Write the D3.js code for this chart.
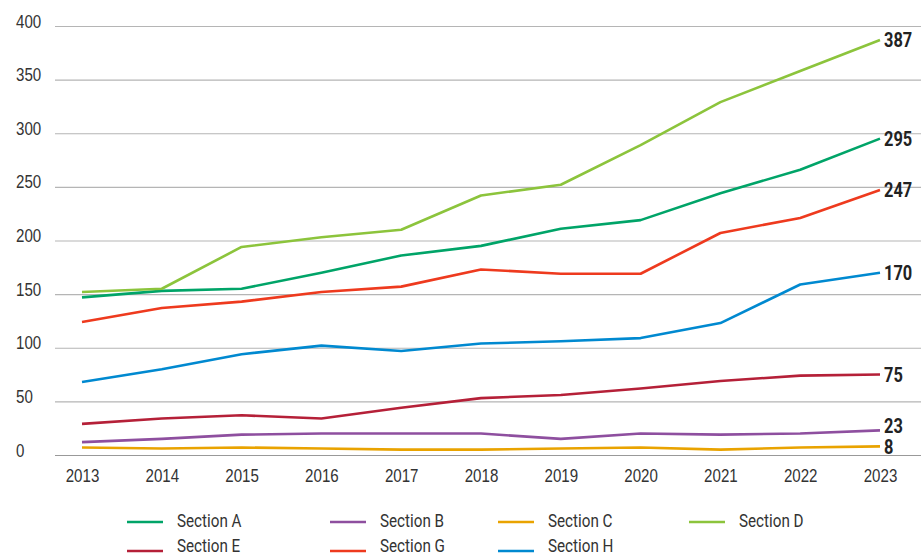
<!DOCTYPE html>
<html>
<head>
<meta charset="utf-8">
<script src="https://cdn.jsdelivr.net/npm/d3@7"></script>
<style>
  body { margin: 0; background: #fff; }
  svg { display: block; font-family: Roboto, "Noto Sans", sans-serif; }
</style>
</head>
<body>
<div id="chart"></div>
<script>
// years along the x axis
const years = [2013, 2014, 2015, 2016, 2017, 2018, 2019, 2020, 2021, 2022, 2023];
const yTicks = [0, 50, 100, 150, 200, 250, 300, 350, 400];

// values per section
const sectionA = [147, 153, 155, 170, 186, 195, 211, 219, 244, 266, 295];
const sectionB = [12, 15, 19, 20, 20, 20, 15, 20, 19, 20, 23];
const sectionC = [7, 6, 7, 6, 5, 5, 6, 7, 5, 7, 8];
const sectionD = [152, 155, 194, 203, 210, 242, 252, 289, 329, 358, 387];
const sectionE = [29, 34, 37, 34, 44, 53, 56, 62, 69, 74, 75];
const sectionG = [124, 137, 143, 152, 157, 173, 169, 169, 207, 221, 247];
const sectionH = [68, 80, 94, 102, 97, 104, 106, 109, 123, 159, 170];

const seriesNames = ["Section A", "Section B", "Section C", "Section D", "Section E", "Section G", "Section H"];
const seriesValues = [sectionA, sectionB, sectionC, sectionD, sectionE, sectionG, sectionH];
const seriesColors = ["#00a468", "#8e4f9f", "#e9a300", "#8cc43c", "#b52038", "#ee3a1e", "#0089d0"];

const width = 921, height = 559;
// the original uses a condensed face, squeeze Roboto a bit
const squeeze = 0.84;

const svg = d3.select("#chart").append("svg")
    .attr("width", width)
    .attr("height", height);

const x = d3.scalePoint().domain(years).range([82, 880]);
const y = d3.scaleLinear().domain([0, 400]).range([455, 26]);

// gridlines + y labels
const yAxis = d3.axisLeft(y).tickValues(yTicks).tickSize(-(width - 55)).tickPadding(0);
const gy = svg.append("g")
    .attr("transform", "translate(55,0)")
    .call(yAxis);
gy.select(".domain").remove();
gy.selectAll(".tick line")
    .attr("stroke", (d) => d === 0 ? "#999" : "#b5b5b5")
    .attr("stroke-width", 1.2);
gy.selectAll(".tick text")
    .attr("transform", `scale(${squeeze},1)`)
    .attr("x", -39 / squeeze)
    .attr("y", 1)
    .attr("dy", 0)
    .attr("text-anchor", "start")
    .style("font-size", "18px")
    .style("fill", "#333");

// x axis labels only
const gx = svg.append("g")
    .attr("transform", "translate(0,455)")
    .call(d3.axisBottom(x).tickSize(0).tickPadding(0));
gx.select(".domain").remove();
gx.selectAll(".tick text")
    .attr("transform", `scale(${squeeze},1)`)
    .attr("y", 0)
    .attr("dy", 27)
    .style("font-size", "18px")
    .style("fill", "#333");

const line = d3.line()
    .x((d, i) => x(years[i]))
    .y((d) => y(d));

svg.selectAll(".series")
    .data(seriesValues)
    .join("path")
    .attr("class", "series")
    .attr("fill", "none")
    .attr("stroke", (d, i) => seriesColors[i])
    .attr("stroke-width", 2.6)
    .attr("stroke-linejoin", "round")
    .attr("d", line);

// end labels, nudged upward when two sit too close
const ends = seriesValues
    .map((d) => ({ value: d[d.length - 1], ly: y(d[d.length - 1]) }))
    .sort((a, b) => b.ly - a.ly);
for (let i = 1; i < ends.length; i++) {
    if (ends[i - 1].ly - ends[i].ly < 21) ends[i].ly = ends[i - 1].ly - 21;
}

svg.selectAll(".endlabel")
    .data(ends)
    .join("text")
    .attr("class", "endlabel")
    .attr("transform", (d) => `translate(${x(years[years.length - 1]) + 4},${d.ly}) scale(0.82,1)`)
    .attr("dy", "0.36em")
    .style("font-size", "20px")
    .style("font-weight", "bold")
    .style("fill", "#222")
    .text((d) => d.value);

// legend
const legendCols = [127, 330, 498, 689];
const legendRows = [522, 551];
const legend = svg.selectAll(".legend")
    .data(seriesNames)
    .join("g")
    .attr("class", "legend")
    .attr("transform", (d, i) => `translate(${legendCols[i % 4]},${legendRows[Math.floor(i / 4)]})`);
legend.append("line")
    .attr("x1", 0).attr("x2", 36)
    .attr("stroke", (d, i) => seriesColors[i])
    .attr("stroke-width", 2.6);
legend.append("text")
    // second row text sits a little above its swatch, as in the original
    .attr("transform", (d, i) => `translate(50,${i < 4 ? -1 : -5}) scale(0.87,1)`)
    .attr("dy", "0.35em")
    .style("font-size", "17.5px")
    .style("fill", "#333")
    .text((d) => d);
</script>
</body>
</html>
